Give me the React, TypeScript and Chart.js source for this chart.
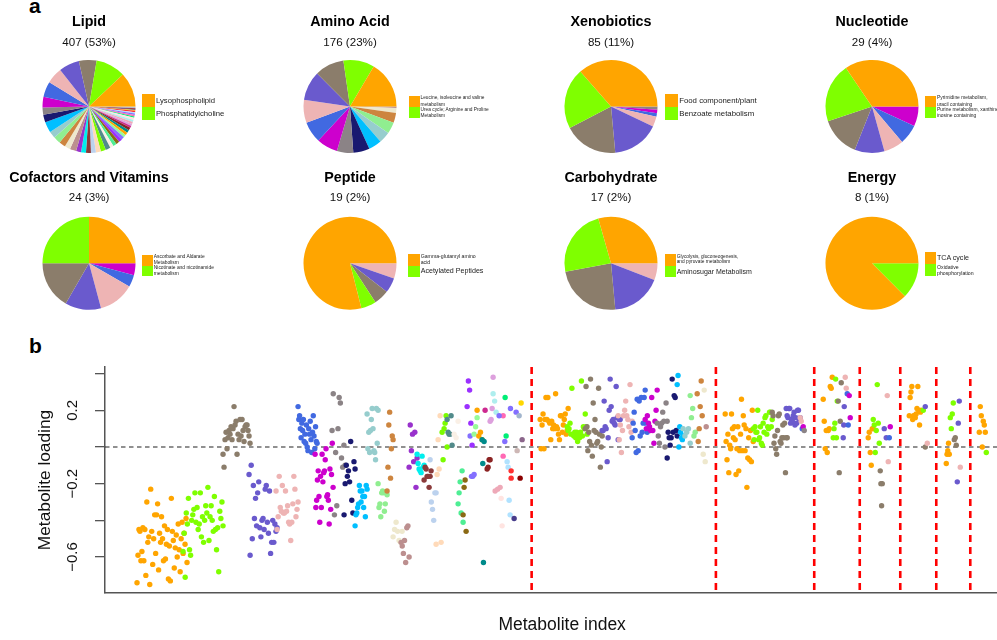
import React, { useEffect, useRef } from 'react';
import { Chart, registerables } from 'chart.js';

Chart.register(...registerables);

const FONT = "'Liberation Sans', Arial, Helvetica, sans-serif";
Chart.defaults.font.family = FONT;

// ---------- colours (R palette used for sub-pathways) ----------
const palette = [
  '#FFA500', '#7FFF00', '#8B7D6B', '#6A5ACD', '#EEB4B4', '#4169E1', '#CD00CD', '#8B8386',
  '#191970', '#00BFFF', '#96CDCD', '#90EE90', '#CD853F', '#EEE8CD', '#BC8F8F', '#9932CC',
  '#00EEEE', '#8B3A3A', '#BCD2EE', '#FFDAB9', '#7CFC00', '#528B8B', '#FAF0E6', '#4EEE94',
  '#8B6914', '#9B30FF', '#8470FF', '#98FB98', '#FFA500', '#008B8B', '#8B2323', '#CD2990',
  '#DDA0DD', '#EEA9B8', '#AEEEEE', '#FFE4E1', '#00EE76', '#FF69B4', '#836FFF', '#B0E2FF',
  '#FF3030', '#FFD700', '#473C8B', '#8B0000', '#8B668B', '#A2B5CD', '#CDB7B5',
];

// ---------- panel a: pies ----------
const pieTitles = ['Lipid', 'Amino Acid', 'Xenobiotics', 'Nucleotide', 'Cofactors and Vitamins', 'Peptide', 'Carbohydrate', 'Energy'];
const pieSubtitles = ['407 (53%)', '176 (23%)', '85 (11%)', '29 (4%)', '24 (3%)', '19 (2%)', '17 (2%)', '8 (1%)'];

const lipidCounts = [49, 42, 25, 29, 23, 22, 15, 10, 11, 15, 10, 10, 9, 8, 9, 7, 7, 7, 7,
  7, 7, 7, 5, 5, 5, 5, 4, 4, 4, 4, 4, 3, 3, 3, 3, 3, 2, 2, 2, 2, 2, 1, 1, 1, 1, 1, 1];
const aminoCounts = [29, 19, 18, 18, 14, 13, 13, 10, 10, 8, 7, 7, 6, 3, 1];
const xenoCounts = [31, 18, 16, 14, 3, 1, 1, 1];
const nucleoCounts = [10, 6, 4, 3, 2, 2, 2];
const cofactorCounts = [6, 6, 4, 3, 3, 1, 1];
const peptideCounts = [15, 1, 1, 1, 1];
const carbCounts = [5, 4, 4, 3, 1];
const energyCounts = [7, 1];

const lipidLegend = ['Lysophospholipid', 'Phosphatidylcholine'];
const aminoLegend = ['Leucine, isoleucine and valine\nmetabolism', 'Urea cycle; Arginine and Proline\nMetabolism'];
const xenoLegend = ['Food component/plant', 'Benzoate metabolism'];
const nucleoLegend = ['Pyrimidine metabolism,\nuracil containing', 'Purine metabolism, xanthine and\ninosine containing'];
const cofactorLegend = ['Ascorbate and Aldarate\nMetabolism', 'Nicotinate and nicotinamide\nmetabolism'];
const peptideLegend = ['Gamma-glutamyl amino\nacid', 'Acetylated Peptides'];
const carbLegend = ['Glycolysis, gluconeogenesis,\nand pyruvate metabolism', 'Aminosugar Metabolism'];
const energyLegend = ['TCA cycle', 'Oxidative\nphosphorylation'];

const pieCounts = [lipidCounts, aminoCounts, xenoCounts, nucleoCounts, cofactorCounts, peptideCounts, carbCounts, energyCounts];
const pieLegends = [lipidLegend, aminoLegend, xenoLegend, nucleoLegend, cofactorLegend, peptideLegend, carbLegend, energyLegend];

// ---------- panel b: metabolite loadings ----------
// [colour index, first metabolite index, last metabolite index, loadings (left to right)]
type Group = [number, number, number, number[]];

const lipidGroups: Group[] = [
  [0, 32, 82, [-0.74, -0.59, -0.45, -0.46, -0.62, -0.57, -0.44, -0.62, -0.45, -0.70, -0.30, -0.52, -0.49, -0.75, -0.23, -0.46, -0.64, -0.50, -0.37, -0.58, -0.37, -0.31, -0.67, -0.47, -0.52, -0.38, -0.50, -0.62, -0.43, -0.61, -0.53, -0.45, -0.72, -0.54, -0.73, -0.28, -0.46, -0.51, -0.66, -0.55, -0.48, -0.60, -0.42, -0.56, -0.68, -0.50, -0.41, -0.58, -0.47, -0.53, -0.39, -0.63]],
  [1, 78, 118, [-0.57, -0.47, -0.71, -0.36, -0.42, -0.28, -0.56, -0.59, -0.40, -0.37, -0.34, -0.25, -0.41, -0.33, -0.45, -0.42, -0.25, -0.49, -0.38, -0.52, -0.40, -0.32, -0.36, -0.22, -0.51, -0.38, -0.32, -0.40, -0.46, -0.27, -0.45, -0.56, -0.44, -0.68, -0.35, -0.39, -0.30, -0.43]],
  [2, 118, 145, [-0.04, -0.11, 0.04, 0.08, -0.01, 0.05, 0.09, 0.07, 0.11, 0.04, 0.10, 0.22, 0.12, 0.14, -0.04, 0.07, 0.04, 0.15, 0.06, 0.15, 0.09, 0.03, 0.11, 0.12, 0.12, 0.09, 0.06, 0.02]],
  [3, 144, 172, [-0.15, -0.59, -0.10, -0.50, -0.21, -0.39, -0.28, -0.43, -0.25, -0.19, -0.44, -0.49, -0.40, -0.39, -0.45, -0.23, -0.21, -0.41, -0.47, -0.24, -0.58, -0.52, -0.40, -0.52, -0.42, -0.46, -0.44]],
  [4, 171, 193, [-0.24, -0.45, -0.38, -0.16, -0.33, -0.35, -0.21, -0.36, -0.36, -0.24, -0.35, -0.32, -0.41, -0.42, -0.51, -0.41, -0.31, -0.16, -0.23, -0.38, -0.34, -0.30]],
  [5, 193, 212, [0.22, 0.15, 0.17, 0.10, 0.05, 0.13, 0.09, 0.15, 0.03, 0.07, 0.02, 0.12, 0.00, -0.02, 0.10, 0.07, 0.14, 0.04, -0.03, 0.08, 0.17, 0.06, -0.01, 0.11, 0.03, 0.02]],
  [6, 210, 228, [-0.04, -0.33, -0.29, -0.18, -0.13, -0.27, -0.41, -0.16, -0.33, -0.04, -0.19, -0.14, -0.13, -0.07, -0.01, -0.27, -0.26, -0.29, -0.42, -0.12, -0.34, -0.15, 0.02, -0.22]],
  [7, 227, 240, [0.09, 0.29, -0.37, -0.03, -0.32, 0.10, 0.27, 0.24, -0.06, -0.11, 0.01, -0.10]],
  [8, 239, 250, [-0.37, -0.20, -0.10, -0.16, -0.13, -0.19, 0.03, -0.29, -0.36, -0.08, -0.12]],
  [9, 250, 262, [-0.43, -0.37, -0.36, -0.33, -0.31, -0.21, -0.24, -0.30, -0.24, -0.27, -0.33, -0.27, -0.38, -0.21, -0.23]],
  [10, 262, 273, [0.18, -0.01, 0.08, -0.03, 0.09, 0.15, 0.21, 0.10, -0.02, -0.03, -0.07, 0.21, 0.02, 0.20]],
  [11, 273, 282, [-0.20, -0.33, -0.31, -0.38, -0.25, -0.24, -0.25, -0.35, -0.31, -0.25, -0.26]],
  [12, 282, 288, [-0.24, -0.11, 0.12, 0.19, -0.17, -0.01, 0.06, 0.04]],
  [13, 288, 297, [-0.49, -0.45, -0.41, -0.46, -0.51, -0.52, -0.46]],
  [14, 296, 304, [-0.52, -0.54, -0.58, -0.51, -0.63, -0.44, -0.43, -0.60]],
  [15, 304, 312, [-0.11, 0.12, -0.02, 0.07, -0.08, 0.08, -0.22, -0.06]],
  [16, 312, 319, [-0.04, -0.09, -0.12, -0.13, -0.14, -0.05, -0.11, -0.10]],
  [17, 319, 326, [-0.18, -0.11, -0.12, -0.16, -0.16, -0.22, -0.16, -0.13]],
  [18, 325, 331, [-0.07, -0.30, -0.34, -0.40, -0.25, -0.25]],
  [19, 331, 336, [-0.53, -0.15, 0.04, -0.12, 0.17, -0.52]],
  [20, 337, 342, [0.08, -0.07, 0.10, 0.13, 0.17, 0.00]],
  [21, 342, 347, [0.15, 0.08, 0.07, 0.07, 0.17, 0.01]],
  [22, 349, 353, [0.07, 0.05, 0.14]],
  [23, 353, 358, [-0.31, -0.25, -0.19, -0.36, -0.13, -0.41]],
  [24, 358, 361, [-0.37, -0.22, -0.18, -0.46]],
  [25, 362, 367, [0.22, 0.36, 0.31, 0.13, 0.01]],
  [26, 365, 369, [0.06, -0.16, -0.16, -0.15]],
  [27, 369, 372, [0.07, 0.11, 0.16]],
  [28, 372, 377, [0.20, 0.06, 0.08, 0.04]],
  [29, 377, 379, [0.04, -0.09, -0.63, 0.03]],
  [30, 382, 385, [-0.12, -0.11, -0.07, -0.07]],
  [31, 380, 380, [0.20]],
  [32, 385, 388, [0.14, 0.15, 0.21, 0.38]],
  [33, 390, 395, [-0.24, -0.23, -0.22]],
  [34, 388, 391, [0.29, 0.25, 0.19]],
  [35, 396, 397, [-0.28, -0.43]],
  [36, 400, 401, [0.27, 0.06]],
  [37, 398, 398, [0.17, -0.05]],
  [38, 394, 411, [0.17, 0.03, 0.21, 0.19]],
  [39, 402, 405, [-0.08, -0.11, -0.29, -0.37]],
  [40, 406, 406, [-0.13, -0.17]],
  [41, 416, 416, [0.24]],
  [42, 409, 409, [-0.39]],
  [43, 415, 415, [-0.17]],
  [44, 417, 417, [0.04]],
  [45, 414, 414, [0.17]],
  [46, 412, 412, [-0.02]],
];

const aminoGroups: Group[] = [
  [0, 435, 463, [0.15, -0.01, 0.12, 0.18, -0.01, 0.15, 0.27, 0.15, 0.27, 0.14, 0.13, 0.04, 0.14, 0.10, 0.12, 0.10, 0.29, 0.11, 0.10, 0.07, 0.04, 0.17, 0.17, 0.08, 0.12, 0.15, 0.18, 0.07, 0.09, 0.21]],
  [1, 462, 482, [0.11, 0.09, 0.10, 0.13, 0.07, 0.32, 0.07, 0.06, 0.08, 0.05, 0.08, 0.03, 0.06, 0.05, 0.08, 0.36, 0.06, 0.11, 0.10, 0.18, 0.11, 0.07]],
  [2, 480, 497, [0.10, 0.33, 0.11, -0.02, 0.08, 0.03, 0.37, 0.01, -0.05, 0.24, 0.09, 0.15, 0.08, 0.02, 0.03, 0.32, 0.07, -0.11, 0.00, 0.06]],
  [3, 497, 515, [0.09, 0.09, 0.25, 0.11, 0.10, -0.08, 0.05, 0.20, 0.37, 0.22, 0.14, 0.15, 0.13, 0.12, 0.33, 0.16, 0.04, 0.15, 0.15]],
  [4, 513, 527, [0.17, 0.04, 0.12, -0.03, 0.09, 0.17, 0.20, 0.25, 0.17, 0.15, 0.11, 0.34, 0.08, 0.14]],
  [5, 527, 542, [0.05, 0.13, 0.19, 0.09, -0.03, 0.26, -0.02, 0.25, 0.06, 0.27, 0.08, 0.13, 0.27, 0.31, 0.13, 0.08]],
  [6, 540, 552, [0.15, 0.10, 0.17, 0.13, 0.11, 0.09, 0.27, 0.09, 0.02, 0.14, 0.20, 0.31]],
  [7, 552, 562, [0.13, 0.06, 0.02, 0.11, 0.13, 0.19, 0.14, 0.00, 0.24, 0.14]],
  [8, 562, 572, [-0.06, 0.08, 0.05, 0.01, 0.05, 0.37, 0.08, 0.28, 0.27, 0.09, 0.06]],
  [9, 572, 578, [0.34, 0.39, 0.00, 0.11, 0.08, 0.05, 0.04, 0.06]],
  [10, 578, 585, [0.10, 0.06, 0.08, 0.10, 0.02]],
  [11, 585, 590, [0.28, 0.16, 0.21, 0.06, 0.08]],
  [12, 592, 597, [0.29, 0.03, 0.10, 0.22, 0.36, 0.17]],
  [13, 598, 600, [-0.04, 0.31, -0.08]],
  [14, 601, 601, [0.11]],
];

const xenoGroups: Group[] = [
  [0, 620, 648, [0.18, 0.03, -0.07, 0.07, -0.14, 0.01, -0.01, 0.18, 0.10, 0.05, 0.11, 0.04, -0.15, -0.01, 0.11, -0.13, -0.02, 0.07, 0.26, -0.02, 0.17, 0.12, -0.02, 0.10, -0.22, -0.06, 0.05, -0.07, 0.09, -0.08, 0.20, 0.03]],
  [1, 648, 667, [0.10, 0.04, 0.11, 0.08, 0.08, 0.20, 0.04, 0.05, 0.11, 0.02, 0.01, 0.13, 0.08, 0.16, 0.17, 0.07, 0.11, 0.10, 0.19, 0.19, 0.11, 0.15]],
  [2, 667, 682, [0.19, 0.17, 0.02, 0.06, -0.01, -0.04, 0.09, 0.17, 0.18, 0.03, 0.02, 0.05, 0.12, 0.05, 0.13, -0.14, 0.05, 0.05]],
  [3, 681, 695, [0.21, 0.17, 0.16, 0.21, 0.21, 0.13, 0.15, 0.14, 0.17, 0.19, 0.12, 0.16, 0.13, 0.20, 0.20, 0.15, 0.16]],
  [4, 695, 696, [0.16, 0.14]],
  [5, 697, 697, [0.10]],
  [6, 698, 698, [0.11]],
  [7, 699, 699, [0.09]],
];

const nucleoGroups: Group[] = [
  [0, 718, 727, [0.26, 0.14, -0.01, 0.09, -0.03, 0.09, 0.10, 0.33, 0.32, 0.38]],
  [1, 728, 732, [0.05, 0.10, 0.13, 0.37, 0.05, 0.25]],
  [2, 733, 736, [0.25, -0.14, 0.14, 0.35]],
  [3, 738, 739, [0.05, 0.12, 0.22]],
  [4, 740, 741, [0.38, 0.32]],
  [5, 742, 743, [0.29, 0.12]],
  [6, 744, 745, [0.28, 0.16]],
];

const cofactorGroups: Group[] = [
  [0, 763, 768, [0.05, 0.08, -0.03, -0.10, 0.10, 0.10]],
  [1, 768, 774, [0.15, 0.12, -0.03, 0.09, 0.34, 0.13, 0.02]],
  [2, 775, 777, [-0.13, -0.20, -0.32, -0.20]],
  [3, 779, 781, [0.10, 0.05]],
  [4, 782, 783, [0.28, -0.08]],
  [5, 784, 784, [0.05]],
  [6, 785, 785, [0.11]],
];

const peptideGroups: Group[] = [
  [0, 804, 816, [0.17, 0.27, 0.30, 0.33, 0.15, 0.17, 0.17, 0.16, 0.18, 0.21, 0.33, 0.20, 0.12, 0.19, 0.20]],
  [1, 818, 818, [0.20]],
  [2, 820, 820, [0.00]],
  [3, 820, 820, [0.22]],
  [4, 822, 822, [0.02]],
];

const carbGroups: Group[] = [
  [0, 841, 844, [-0.09, -0.04, -0.02, 0.02, -0.04]],
  [1, 845, 848, [0.16, 0.10, 0.18, 0.24]],
  [2, 849, 851, [0.04, 0.05, 0.01]],
  [3, 852, 854, [-0.19, 0.13, 0.25]],
  [4, 855, 855, [-0.11]],
];

const energyGroups: Group[] = [
  [0, 874, 880, [0.08, 0.22, 0.17, 0.00, 0.14, 0.12, 0.08]],
  [1, 881, 881, [-0.03]],
];

// super-pathway boundaries (metabolite index)
const separators = [426.5, 610.7, 709, 754.5, 795, 831, 865];

const yTickValues = [-0.6, -0.4, -0.2, 0, 0.2, 0.4];
const yTickLabels = ['\u22120.6', '', '\u22120.2', '', '0.2', ''];
const Y_MIN = -0.796;
const Y_MAX = 0.436;
const X_MIN = 0;
const X_MAX = 914;

// ---------- layout (styles only) ----------
const PIE_CX = [88.5, 349.5, 610.5, 872, 88.5, 349.5, 610.5, 872];
const ROWS = [
  { top: 0, height: 153, tpt: 13.1, spt: 6.0, spb: 9.7 },
  { top: 160, height: 150, tpt: 9.7, spt: 4.4, spb: 11.4 },
];
const LEGEND_LAYOUT = [
  { x: 142.3, y: 94.3, bw: 12.7, bh: [12.7, 13], fs: [7.7, 7.7], lh: [9, 9], gap: 1 },
  { x: 409, y: 96, bw: 11, bh: [11, 11], fs: [4.8, 4.8], lh: [6.4, 5.8], gap: 0.5 },
  { x: 665, y: 94, bw: 12.7, bh: [13, 13], fs: [7.8, 7.8], lh: [9, 9], gap: 1.5 },
  { x: 925, y: 96, bw: 11, bh: [11, 11], fs: [4.9, 4.9], lh: [6.4, 5.9], gap: 1 },
  { x: 142.3, y: 255, bw: 11, bh: [10.7, 10.3], fs: [4.9, 4.9], lh: [6, 6], gap: 0.5 },
  { x: 408.3, y: 254.3, bw: 11.7, bh: [11.4, 11.3], fs: [5.2, 7.1], lh: [5.5, 9], gap: 0.7 },
  { x: 665, y: 254.3, bw: 11, bh: [11.4, 11.3], fs: [4.8, 7.0], lh: [4.8, 9], gap: 0.7 },
  { x: 925, y: 252.3, bw: 11, bh: [11.7, 11.7], fs: [7.1, 5.2], lh: [9, 6.3], gap: 1 },
];
const SCATTER_W = 1022; // plot region runs past the right edge of the page, as in the original

function PieChart({ k }: { k: number }) {
  const ref = useRef<HTMLCanvasElement>(null);
  const row = ROWS[k < 4 ? 0 : 1];
  useEffect(() => {
    const counts = pieCounts[k];
    const order = counts.map((_, i) => i).reverse(); // R draws counter-clockwise
    const chart = new Chart(ref.current as HTMLCanvasElement, {
      type: 'pie',
      data: {
        labels: order.map((i) => 'sub-pathway ' + (i + 1)),
        datasets: [{
          data: order.map((i) => counts[i]),
          backgroundColor: order.map((i) => palette[i]),
          borderWidth: 0,
          rotation: 90,
        } as any],
      },
      options: {
        responsive: false,
        animation: false,
        events: [],
        rotation: 90,
        radius: 46.5,
        layout: { padding: 0 },
        plugins: {
          legend: { display: false },
          tooltip: { enabled: false },
          title: {
            display: true, text: pieTitles[k], color: '#000',
            font: { size: 14.3, weight: 'bold', family: FONT },
            padding: { top: row.tpt, bottom: 0 },
          },
          subtitle: {
            display: true, text: pieSubtitles[k], color: '#111',
            font: { size: 11.6, family: FONT },
            padding: { top: row.spt, bottom: row.spb },
          },
        },
      } as any,
    });
    return () => chart.destroy();
  }, [k]);
  return (
    <canvas
      ref={ref}
      width={170}
      height={row.height}
      style={{ position: 'absolute', left: PIE_CX[k] - 85, top: row.top, width: 170, height: row.height }}
    />
  );
}

function Legend({ k }: { k: number }) {
  const L = LEGEND_LAYOUT[k];
  return (
    <div style={{ position: 'absolute', left: L.x, top: L.y }}>
      {pieLegends[k].map((t, i) => (
        <div key={i} style={{ display: 'flex', alignItems: 'center', height: L.bh[i] }}>
          <div style={{ width: L.bw, height: L.bh[i], background: palette[i], flex: 'none' }} />
          <div style={{ marginLeft: L.gap, fontSize: L.fs[i], lineHeight: L.lh[i] + 'px', whiteSpace: 'pre', color: '#222' }}>{t}</div>
        </div>
      ))}
    </div>
  );
}

function buildPoints() {
  const all = [...lipidGroups, ...aminoGroups, ...xenoGroups, ...nucleoGroups, ...cofactorGroups, ...peptideGroups, ...carbGroups, ...energyGroups];
  const pts: { x: number; y: number }[] = [];
  const cols: string[] = [];
  all.forEach(([c, x0, x1, ys]) => {
    const n = ys.length;
    ys.forEach((y, i) => {
      pts.push({ x: n > 1 ? x0 + ((x1 - x0) * i) / (n - 1) : x0, y });
      cols.push(palette[c]);
    });
  });
  return { pts, cols };
}

const refLines = {
  id: 'refLines',
  beforeDatasetsDraw(chart: any) {
    const { ctx, chartArea, scales } = chart;
    const y0 = scales.y.getPixelForValue(0);
    ctx.save();
    ctx.strokeStyle = '#222';
    ctx.lineWidth = 1.2;
    ctx.setLineDash([4.5, 3.5]);
    ctx.beginPath();
    ctx.moveTo(chartArea.left, y0);
    ctx.lineTo(chartArea.right, y0);
    ctx.stroke();
    ctx.restore();
  },
  afterDatasetsDraw(chart: any) {
    const { ctx, chartArea, scales } = chart;
    ctx.save();
    ctx.strokeStyle = '#FF0000';
    ctx.lineWidth = 2.6;
    ctx.setLineDash([7, 5]);
    separators.forEach((s) => {
      const x = scales.x.getPixelForValue(s);
      ctx.beginPath();
      ctx.moveTo(x, chartArea.top);
      ctx.lineTo(x, chartArea.bottom);
      ctx.stroke();
    });
    ctx.restore();
  },
};

function Scatter() {
  const ref = useRef<HTMLCanvasElement>(null);
  useEffect(() => {
    const { pts, cols } = buildPoints();
    const chart = new Chart(ref.current as HTMLCanvasElement, {
      type: 'scatter',
      data: {
        datasets: [{
          data: pts,
          backgroundColor: cols,
          borderColor: cols,
          borderWidth: 0,
          pointRadius: 2.7,
          pointHoverRadius: 2.7,
        }],
      },
      options: {
        responsive: false,
        animation: false,
        events: [],
        layout: { padding: { top: 37, right: 0, bottom: 0, left: 0 } },
        plugins: { legend: { display: false }, tooltip: { enabled: false } },
        scales: {
          x: {
            type: 'linear',
            min: X_MIN,
            max: X_MAX,
            afterFit: (s: any) => { s.height = 47; },
            ticks: { display: false },
            grid: { display: false },
            border: { display: true, color: '#555', width: 1.5 },
            title: {
              display: true, text: 'Metabolite index', color: '#111',
              font: { size: 17.5, family: FONT },
              padding: { top: 0, bottom: 4.6 },
            },
          },
          y: {
            type: 'linear',
            min: Y_MIN,
            max: Y_MAX,
            afterFit: (s: any) => { s.width = 105; },
            afterBuildTicks: (s: any) => { s.ticks = yTickValues.map((v) => ({ value: v })); },
            ticks: {
              autoSkip: false,
              minRotation: 90,
              maxRotation: 90,
              crossAlign: 'center',
              padding: 7,
              color: '#111',
              font: { size: 15, family: FONT },
              callback: (_v: any, i: number) => yTickLabels[i],
            },
            grid: { display: true, drawOnChartArea: false, drawTicks: true, tickLength: 10, color: '#555', lineWidth: 1.3 },
            border: { display: true, color: '#555', width: 1.5 },
            title: {
              display: true, text: 'Metabolite loading', color: '#111',
              font: { size: 17.3, family: FONT },
              padding: { top: 34.6, bottom: 0 },
            },
          },
        },
      } as any,
      plugins: [refLines],
    });
    return () => chart.destroy();
  }, []);
  return (
    <canvas ref={ref} width={SCATTER_W} height={310} style={{ position: 'absolute', left: 0, top: 330, width: SCATTER_W, height: 310 }} />
  );
}

export default function App() {
  return (
    <div style={{ position: 'fixed', left: 0, top: 0, width: 997, height: 640, overflow: 'hidden', background: '#fff', fontFamily: FONT }}>
      <div style={{ position: 'absolute', left: 29, top: -4.8, fontSize: 21, fontWeight: 'bold', lineHeight: '21px', color: '#000' }}>a</div>
      <div style={{ position: 'absolute', left: 29, top: 335.2, fontSize: 21, fontWeight: 'bold', lineHeight: '21px', color: '#000' }}>b</div>
      {pieTitles.map((_, k) => <PieChart key={'p' + k} k={k} />)}
      {pieTitles.map((_, k) => <Legend key={'l' + k} k={k} />)}
      <Scatter />
    </div>
  );
}
